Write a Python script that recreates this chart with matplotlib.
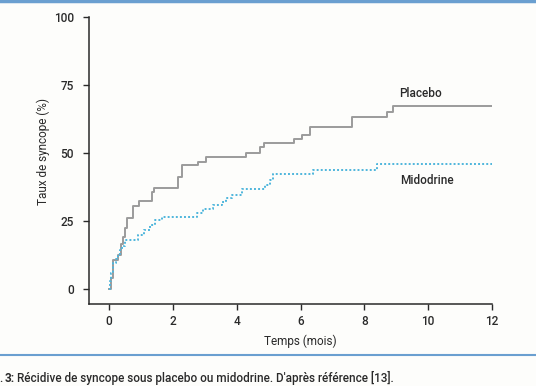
import matplotlib
matplotlib.use('Agg')

import matplotlib.pyplot as plt
from matplotlib.lines import Line2D

plt.rcParams['font.family'] = ['Roboto', 'DejaVu Sans']
plt.rcParams['font.weight'] = 'medium'

# Kaplan-Meier style step data (months, % syncope)
placebo_t = [0, 0.05, 0.13, 0.28, 0.38, 0.45, 0.5, 0.55, 0.75, 0.95, 1.35, 1.42,
             2.15, 2.3, 2.8, 3.05, 4.3, 4.73, 4.85, 5.78, 6.05, 6.3, 7.6, 8.7, 8.9, 12]
placebo_v = [0, 4, 10.5, 12.5, 16.5, 19, 22.5, 26, 30.5, 32.3, 35.8, 37.2,
             41.3, 45.6, 46.8, 48.6, 50, 52.3, 53.8, 55.3, 56.8, 59.5, 63.2, 65.2, 67.1, 67.1]

midodrine_t = [0, 0.02, 0.05, 0.13, 0.22, 0.29, 0.35, 0.4, 0.5, 0.92, 1.08, 1.29, 1.44,
               1.65, 2.75, 2.95, 3.25, 3.55, 3.65, 3.85, 4.15, 4.89, 5.05, 5.15, 6.4, 8.39, 12]
midodrine_v = [0, 3, 6, 9.4, 11, 13, 14.5, 16, 18, 19.8, 21.7, 23.5, 25.4,
               26.6, 27.8, 29.3, 30.9, 32.1, 33.3, 34.6, 36.7, 38.2, 40, 42.3, 43.8, 46, 46]

x_ticks = [0, 2, 4, 6, 8, 10, 12]
y_ticks = [0, 25, 50, 75, 100]

bg = '#fdfdfb'
txt = '#2a2a2a'
fig = plt.figure(figsize=(5.36, 3.86), dpi=100, facecolor=bg)
ax = fig.add_axes([0.166, 0.2124, 0.752, 0.7436], facecolor=bg)

ax.step(placebo_t, placebo_v, where='post', color='#9b9b9b', lw=1.4)
ax.step(midodrine_t, midodrine_v, where='post', color='#4fb6dc', lw=1.4,
        linestyle=(0, (1, 1.1)))

ax.text(9.75, 72, 'Placebo', fontsize=8.5, color=txt, ha='center', va='center')
ax.text(9.95, 40, 'Midodrine', fontsize=8.5, color=txt, ha='center', va='center')

ax.set_xlim(-0.63, 12)
ax.set_ylim(-5.5, 100)
ax.set_xticks(x_ticks)
ax.set_yticks(y_ticks)
ax.tick_params(labelsize=8.5, length=4, width=1, colors=txt)
ax.tick_params(axis='x', pad=4)
ax.tick_params(axis='y', pad=7)
for s in ['top', 'right']:
    ax.spines[s].set_visible(False)
for s in ['left', 'bottom']:
    ax.spines[s].set_linewidth(1.1)
    ax.spines[s].set_color(txt)

ax.set_xlabel('Temps (mois)', fontsize=8.5, color=txt)
ax.set_ylabel('Taux de syncope (%)', fontsize=8.5, color=txt)
ax.xaxis.set_label_coords(0.524, -0.108)
ax.yaxis.set_label_coords(-0.097, 0.53)

# decorative rules and caption
fig.add_artist(Line2D([0, 1], [0.997, 0.997], transform=fig.transFigure,
                      color='#6a9fd0', lw=2.5))
fig.add_artist(Line2D([0, 1], [1 - 355 / 386, 1 - 355 / 386], transform=fig.transFigure,
                      color='#6a9fd0', lw=1.5))
cap_y = 1 - 378 / 386
fig.text(-0.002, cap_y, '.', fontsize=8.5, color=txt, va='center')
fig.text(0.009, cap_y, '3:', fontsize=8.5, color=txt, va='center', fontweight='bold')
fig.text(0.031, cap_y,
         "Récidive de syncope sous placebo ou midodrine. D'après référence [13].",
         fontsize=8.5, color=txt, va='center')

plt.savefig('out.png', dpi=100, facecolor=bg)
